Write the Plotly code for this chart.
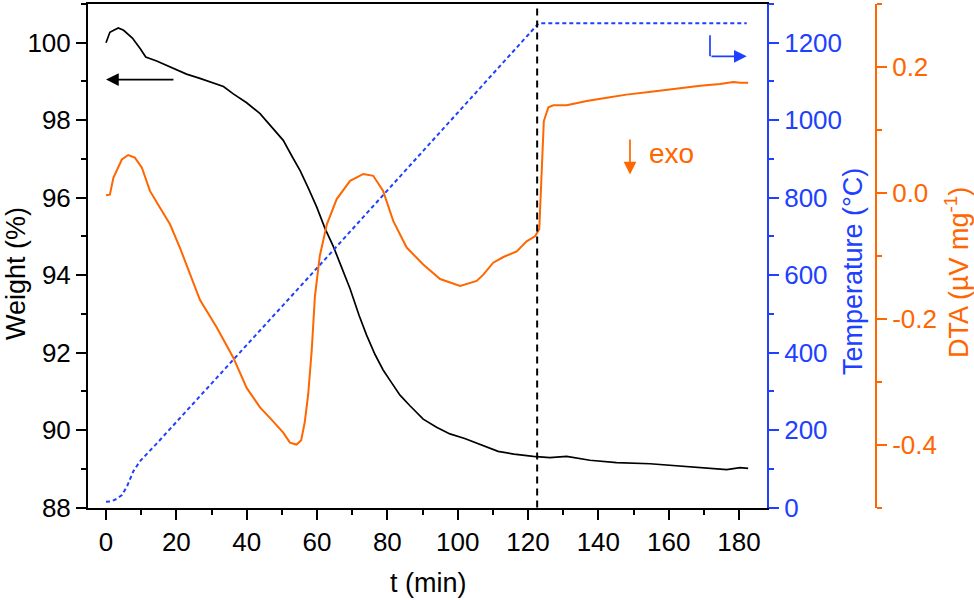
import plotly.graph_objects as go

# TGA weight (%) vs time (min)
t_weight = [0, 1.1, 2.2, 3.5, 5.0, 7.5, 9.7, 11.3, 14.4, 18.2, 22.9, 26.7, 30, 33.4, 36.2, 40,
            43.8, 47.6, 50.4, 53, 55.2, 57.5, 59.9, 62.3, 64.6, 67, 69.4, 72, 74.1, 76.5, 78.8,
            81, 83.6, 86.5, 90.2, 94, 97.8, 102, 107.3, 111.5, 116, 121.5, 126.2, 131, 137.6,
            145.2, 154.7, 164.2, 170.8, 176.5, 180.3, 182.6]
weight = [100.0, 100.27, 100.32, 100.38, 100.32, 100.12, 99.85, 99.63, 99.53, 99.37, 99.19,
          99.08, 98.98, 98.87, 98.68, 98.45, 98.17, 97.78, 97.48, 97.05, 96.70, 96.25, 95.76,
          95.2, 94.75, 94.2, 93.65, 92.95, 92.45, 91.95, 91.55, 91.25, 90.9, 90.62, 90.28,
          90.07, 89.9, 89.78, 89.6, 89.45, 89.38, 89.32, 89.29, 89.32, 89.22, 89.16, 89.13,
          89.07, 89.01, 88.98, 89.03, 89.01]

# DTA signal (uV/mg)
t_dta = [0, 1.1, 2.1, 3.0, 4.5, 6.3, 8.2, 10.2, 12.5, 15.4, 18.2, 21.0, 23.8, 26.7, 31.5, 36.2,
         40.0, 43.8, 47, 50.4, 52.3, 54.2, 55.5, 56.5, 57.5, 58.5, 59.4, 60.8, 62.8, 65.6, 69.4,
         73.2, 76.0, 78.8, 81.7, 85.5, 90.2, 95.0, 100.7, 105.4, 107.3, 110.1, 113, 116.8, 119.6,
         122, 123.2, 123.9, 124.5, 125.8, 127.2, 131, 136.7, 142.4, 148, 155.6, 162.3, 169,
         174.6, 178.4, 180.3, 182.6]
dta = [-0.004, -0.003, 0.024, 0.036, 0.053, 0.060, 0.056, 0.040, 0.003, -0.024, -0.050, -0.087,
       -0.128, -0.170, -0.214, -0.262, -0.310, -0.341, -0.360, -0.381, -0.397, -0.400, -0.393,
       -0.365, -0.320, -0.250, -0.165, -0.100, -0.050, -0.010, 0.019, 0.030, 0.027, 0.003,
       -0.045, -0.087, -0.114, -0.137, -0.148, -0.140, -0.130, -0.111, -0.102, -0.093, -0.077,
       -0.069, -0.058, 0.040, 0.114, 0.136, 0.139, 0.139, 0.146, 0.151, 0.156, 0.161, 0.166,
       0.170, 0.173, 0.176, 0.175, 0.175]

# furnace temperature (degC)
t_temp = [0, 1.5, 3, 4.5, 6, 7.8, 9.7, 14.4, 63.7, 122.0, 123.0, 182.2]
temp = [15, 16, 22, 32, 55, 94, 120, 165, 655, 1240, 1250, 1250]

t_hold = 122.6  # start of isothermal segment

BLACK = "#000000"
BLUE = "#2040ff"
ORANGE = "#ff6600"
FONT = "Liberation Sans, Arial, sans-serif"

fig = go.Figure()

fig.add_trace(go.Scatter(
    x=t_temp, y=temp, yaxis="y2", mode="lines",
    line=dict(color=BLUE, width=2, dash="4px,3px")
))
fig.add_trace(go.Scatter(
    x=t_dta, y=dta, yaxis="y3", mode="lines",
    line=dict(color=ORANGE, width=2)
))
fig.add_trace(go.Scatter(
    x=t_weight, y=weight, yaxis="y", mode="lines",
    line=dict(color=BLACK, width=1.7)
))

fig.add_vline(x=t_hold, line=dict(color=BLACK, width=2, dash="7px,5px"))

# axis arrows
fig.add_annotation(x=0, y=99.05, ax=19.6, ay=99.05, xref="x", yref="y", axref="x", ayref="y",
                   text="", showarrow=True, arrowhead=2, arrowsize=1.5, arrowwidth=1.7,
                   arrowcolor=BLACK)
fig.add_shape(type="line", x0=171.75, x1=171.75, y0=1219, y1=1165, xref="x", yref="y2",
              line=dict(color=BLUE, width=1.7))
fig.add_annotation(x=182.2, y=1165, ax=171.75, ay=1165, xref="x", yref="y2", axref="x", ayref="y2",
                   text="", showarrow=True, arrowhead=2, arrowsize=1.5, arrowwidth=1.7,
                   arrowcolor=BLUE)
fig.add_annotation(x=149.0, y=0.029, ax=149.0, ay=0.087, xref="x", yref="y3", axref="x", ayref="y3",
                   text="", showarrow=True, arrowhead=2, arrowsize=1.5, arrowwidth=1.7,
                   arrowcolor=ORANGE)
fig.add_annotation(x=160.9, y=0.063, xref="x", yref="y3", text="exo", showarrow=False,
                   xanchor="center", yanchor="middle",
                   font=dict(color=ORANGE, size=28))

# axis titles
title_kw = dict(xref="paper", yref="paper", showarrow=False, xanchor="center", yanchor="middle")
fig.add_annotation(x=16 / 974, y=1 - 274 / 600, text="Weight (%)", textangle=-90,
                   font=dict(color=BLACK, size=27), **title_kw)
fig.add_annotation(x=853 / 974, y=1 - 272 / 600, text="Temperature (°C)", textangle=-90,
                   font=dict(color=BLUE, size=27), **title_kw)
fig.add_annotation(x=957 / 974, y=1 - 273 / 600, text="DTA (µV mg<sup>-1</sup>)", textangle=-90,
                   font=dict(color=ORANGE, size=27), **title_kw)
fig.add_annotation(x=428 / 974, y=1 - 583 / 600, text="t (min)",
                   font=dict(color=BLACK, size=27), **title_kw)

ydom = [1 - 507.5 / 600, 1 - 4 / 600]

fig.update_layout(
    width=974, height=600,
    margin=dict(l=0, r=0, t=0, b=0),
    plot_bgcolor="white", paper_bgcolor="white",
    font=dict(family=FONT, size=26, color=BLACK),
    showlegend=False,
    xaxis=dict(
        domain=[88 / 974, 767 / 974], range=[-5.12, 187.96], automargin=False,
        showline=True, linecolor=BLACK, linewidth=2, mirror=True,
        ticks="outside", ticklen=10, tickwidth=2, tickcolor=BLACK,
        tick0=0, dtick=20, showgrid=False, zeroline=False,
        minor=dict(dtick=10, ticks="outside", ticklen=5, tickwidth=2, tickcolor=BLACK),
    ),
    yaxis=dict(
        domain=ydom, range=[88, 101], automargin=False,
        showline=True, linecolor=BLACK, linewidth=2,
        ticks="outside", ticklen=10, tickwidth=2, tickcolor=BLACK,
        tick0=88, dtick=2, showgrid=False, zeroline=False,
        minor=dict(dtick=1, ticks="outside", ticklen=5, tickwidth=2, tickcolor=BLACK),
    ),
    yaxis2=dict(
        overlaying="y", side="right", anchor="x", range=[0, 1300], automargin=False,
        showline=True, linecolor=BLUE, linewidth=2,
        ticks="outside", ticklen=10, tickwidth=2, tickcolor=BLUE,
        tick0=0, dtick=200, showgrid=False, zeroline=False,
        tickfont=dict(color=BLUE),
        minor=dict(dtick=100, ticks="outside", ticklen=5, tickwidth=2, tickcolor=BLUE),
    ),
    yaxis3=dict(
        overlaying="y", side="right", anchor="free", position=876 / 974, range=[-0.5, 0.3],
        automargin=False,
        showline=True, linecolor=ORANGE, linewidth=2,
        ticks="outside", ticklen=10, tickwidth=2, tickcolor=ORANGE,
        tickmode="array", tickvals=[-0.4, -0.2, 0.0, 0.2], ticktext=["-0.4", "-0.2", "0.0", "0.2"],
        showgrid=False, zeroline=False,
        tickfont=dict(color=ORANGE),
        minor=dict(tickmode="array", tickvals=[-0.5, -0.3, -0.1, 0.1, 0.3], ticks="outside",
                   ticklen=5, tickwidth=2, tickcolor=ORANGE),
    ),
)

# the page body has a default 8px margin; drop it so the figure sits at the window corner
fig.write_html("out.html", config={"displayModeBar": False},
               post_script="document.body.style.margin = '0';")
